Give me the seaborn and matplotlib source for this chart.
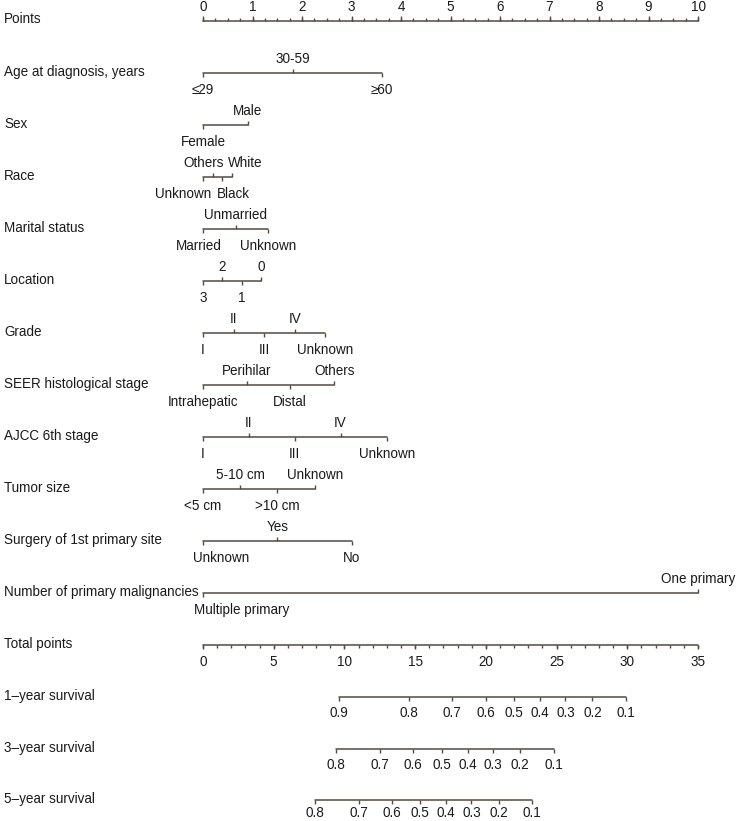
import numpy as np
import pandas as pd
import seaborn as sns
import matplotlib.pyplot as plt

# nomogram values (points scale 0-10, total points 0-35)
points_ticks = list(range(0, 11))
total_ticks = list(range(0, 36, 5))

age_levels = ["≤29", "30-59", "≥60"]
age_points = [0, 1.82, 3.61]
sex_levels = ["Female", "Male"]
sex_points = [0, 0.90]
race_levels = ["Unknown", "Others", "Black", "White"]
race_points = [0, 0.20, 0.38, 0.58]
marital_levels = ["Married", "Unmarried", "Unknown"]
marital_points = [0, 0.66, 1.31]
location_levels = ["3", "2", "1", "0"]
location_points = [0, 0.39, 0.78, 1.18]
grade_levels = ["I", "II", "III", "IV", "Unknown"]
grade_points = [0, 0.62, 1.23, 1.86, 2.47]
seer_levels = ["Intrahepatic", "Perihilar", "Distal", "Others"]
seer_points = [0, 0.88, 1.76, 2.65]
ajcc_levels = ["I", "II", "III", "IV", "Unknown"]
ajcc_points = [0, 0.92, 1.85, 2.78, 3.71]
tumor_levels = ["<5 cm", "5-10 cm", ">10 cm", "Unknown"]
tumor_points = [0, 0.75, 1.50, 2.26]
surgery_levels = ["Unknown", "Yes", "No"]
surgery_points = [0, 1.50, 3.00]
number_levels = ["Multiple primary", "One primary"]
number_points = [0, 10]

surv1_labels = ["0.9", "0.8", "0.7", "0.6", "0.5", "0.4", "0.3", "0.2", "0.1"]
surv1_total = [9.61, 14.57, 17.62, 19.99, 22.01, 23.83, 25.63, 27.53, 29.90]
surv3_labels = ["0.8", "0.7", "0.6", "0.5", "0.4", "0.3", "0.2", "0.1"]
surv3_total = [9.39, 12.52, 14.86, 16.88, 18.71, 20.50, 22.40, 24.79]
surv5_labels = ["0.8", "0.7", "0.6", "0.5", "0.4", "0.3", "0.2", "0.1"]
surv5_total = [7.89, 11.02, 13.36, 15.35, 17.20, 18.98, 20.90, 23.26]

variables = [
    ("Age at diagnosis, years", age_levels, age_points),
    ("Sex", sex_levels, sex_points),
    ("Race", race_levels, race_points),
    ("Marital status", marital_levels, marital_points),
    ("Location", location_levels, location_points),
    ("Grade", grade_levels, grade_points),
    ("SEER histological stage", seer_levels, seer_points),
    ("AJCC 6th stage", ajcc_levels, ajcc_points),
    ("Tumor size", tumor_levels, tumor_points),
    ("Surgery of 1st primary site", surgery_levels, surgery_points),
    ("Number of primary malignancies", number_levels, number_points),
]
survivals = [
    ("1\u2013year survival", surv1_labels, surv1_total),
    ("3\u2013year survival", surv3_labels, surv3_total),
    ("5\u2013year survival", surv5_labels, surv5_total),
]

# label sides (True = above the line) and small horizontal nudges in px
above = {
    "Age at diagnosis, years": [False, True, False],
    "Sex": [False, True],
    "Race": [False, True, False, True],
    "Marital status": [False, True, False],
    "Location": [False, True, False, True],
    "Grade": [False, True, False, True, False],
    "SEER histological stage": [False, True, False, True],
    "AJCC 6th stage": [False, True, False, True, False],
    "Tumor size": [False, True, False, True],
    "Surgery of 1st primary site": [False, True, False],
    "Number of primary malignancies": [False, True],
}
nudge = {
    ("Race", "Unknown"): -20, ("Race", "Black"): 12,
    ("Race", "Others"): -9, ("Race", "White"): 13,
    ("Marital status", "Married"): -4,
    ("Surgery of 1st primary site", "Unknown"): 18,
    ("Number of primary malignancies", "Multiple primary"): 39,
}

LINE = "#57493f"
TEXT = "#1a1a1a"
FS = 9.75
X0, PXPT = 203, 49.5           # pixel of 0 points, pixels per point
PX = 1 / PXPT                  # data units per pixel
TOT = 10 / 35                  # total points -> points scale

sns.set_theme(style="white")
plt.rcParams["font.family"] = ["Liberation Sans", "DejaVu Sans"]

fig = plt.figure(figsize=(7.37, 8.21), dpi=100)
ax = fig.add_axes([0, 0, 1, 1])

row_y = [21 + 52 * i for i in range(16)]
row_y[15] = 800
lab_x = (4 - X0) * PX


def txt(x, y, s, ha="center"):
    # y is the visual centre of capital letters, in pixels
    ax.text(x, y + 4.8, s, ha=ha, va="baseline", fontsize=FS, color=TEXT)


segs = []

# Points axis
y = row_y[0]
txt(lab_x, y - 3, "Points", ha="left")
segs.append(("Points", 0, 10, y))
minor = np.arange(0, 10.01, 0.25)
ax.vlines(minor, y - 3, y, color=LINE, lw=1.0)
ax.vlines(points_ticks, y - 4.5, y, color=LINE, lw=1.0)
for t in points_ticks:
    txt(t, y - 15, str(t))

# predictor rows
for i, (name, levels, pts) in enumerate(variables):
    y = row_y[i + 1]
    txt(lab_x, y - 2, name, ha="left")
    segs.append((name, min(pts), max(pts), y))
    for lev, p, up in zip(levels, pts, above[name]):
        if up:
            ax.vlines(p, y - 4, y, color=LINE, lw=1.0)
            ly = y - 15
        else:
            ax.vlines(p, y, y + 4, color=LINE, lw=1.0)
            ly = y + 16
        txt(p + nudge.get((name, lev), 0) * PX, ly, lev)

# Total points axis
y = row_y[12]
txt(lab_x, y - 2, "Total points", ha="left")
segs.append(("Total", 0, 10, y))
ax.vlines(np.arange(0, 36) * TOT, y, y + 3.5, color=LINE, lw=1.0)
ax.vlines(np.array(total_ticks) * TOT, y, y + 4.5, color=LINE, lw=1.0)
for t in total_ticks:
    txt(t * TOT, y + 16, str(t))

# survival axes
for j, (name, labs, tot) in enumerate(survivals):
    y = row_y[13 + j]
    txt(lab_x, y - 2, name, ha="left")
    xs = np.array(tot) * TOT
    segs.append((name, xs.min(), xs.max(), y))
    ax.vlines(xs, y, y + 4, color=LINE, lw=1.0)
    off = 15 if j < 2 else 12
    for xv, lb in zip(xs, labs):
        txt(xv, y + off, lb)

seg_df = pd.DataFrame(
    [(n, x, yy) for n, a, b, yy in segs for x in (a, b)], columns=["seg", "x", "y"]
)
sns.lineplot(data=seg_df, x="x", y="y", units="seg", estimator=None, sort=False,
             color=LINE, lw=1.1, legend=False, ax=ax)

ax.set_xlim(-X0 * PX, (737 - X0) * PX)
ax.set_ylim(821, 0)
ax.axis("off")

fig.savefig("out.png", dpi=100, facecolor="white")
